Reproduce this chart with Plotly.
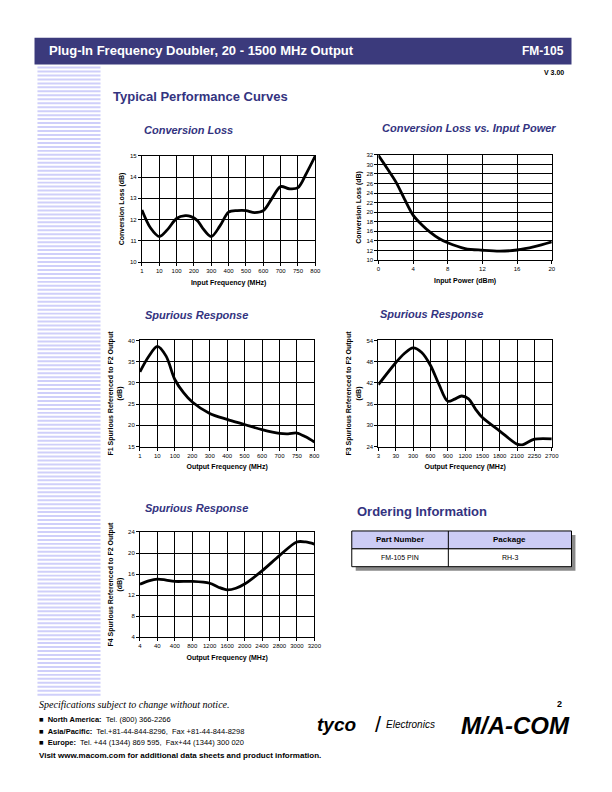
import plotly.graph_objects as go

# ---- data ----
freq_in_labels = ["1", "10", "100", "200", "300", "400", "500", "600", "700", "750", "800"]
cl_pos = [0, 0.5, 1, 1.5, 2, 2.5, 2.8, 3.2, 3.5, 4, 4.5, 5, 5.5, 6, 6.5, 7, 7.5, 8, 8.5, 9, 9.5, 10]
cl_db = [12.45, 11.6, 11.2, 11.55, 12.05, 12.18, 12.15, 11.95, 11.6, 11.2, 11.7, 12.35, 12.42, 12.42, 12.33, 12.42, 13.0, 13.55, 13.45, 13.5, 14.2, 15.0]

pin_dbm = [0, 1, 2, 3, 4, 5, 6, 7, 8, 10, 12, 14, 16, 18, 20]
pin_cl = [31.9, 29.2, 26.4, 22.8, 19.4, 17.4, 15.8, 14.5, 13.6, 12.4, 12.05, 11.85, 12.1, 12.8, 13.8]

f1_pos = [0, 0.5, 1, 1.5, 2, 2.5, 3, 4, 5, 6, 7, 8, 8.5, 9, 9.5, 10]
f1_db = [32.6, 36.2, 38.6, 36.3, 30.8, 27.7, 25.5, 22.8, 21.4, 20.2, 19.0, 18.1, 18.0, 18.2, 17.3, 16.1]

f3_labels = ["3", "30", "300", "600", "900", "1200", "1500", "1800", "2100", "2250", "2700"]
f3_pos = [0, 1, 1.5, 2, 2.5, 3, 3.5, 4, 4.4, 4.8, 5.2, 5.6, 6, 7, 8, 8.3, 9, 10]
f3_db = [41.5, 47.7, 50.3, 51.9, 50.6, 47.0, 41.5, 36.8, 37.4, 38.3, 37.5, 34.6, 32.2, 28.4, 24.7, 24.5, 26.1, 26.2]

f4_labels = ["4", "40", "400", "800", "1200", "1600", "2000", "2400", "2800", "3000", "3200"]
f4_pos = [0, 0.5, 1, 1.5, 2, 3, 4, 4.5, 5, 5.5, 6, 7, 8, 9, 9.5, 10]
f4_db = [14.05, 14.7, 15.05, 14.85, 14.6, 14.6, 14.25, 13.5, 13.0, 13.3, 14.1, 16.6, 19.5, 22.1, 22.1, 21.7]

order_cols = ["Part Number", "Package"]
order_rows = [["FM-105 PIN", "RH-3"]]

NAVY = "#333380"
FONT = "Liberation Sans"
W, H = 612, 792


def px(x):
    return x / W


def py(y):
    return 1 - y / H


fig = go.Figure()

# plot boxes in pixels: left, right, top, bottom
boxes = [
    (142, 318, 154, 261),
    (382, 558, 153, 259),
    (140, 317, 340, 447),
    (382, 558, 340, 447),
    (140, 317, 533, 639),
]

series = [
    (cl_pos, cl_db),
    (pin_dbm, pin_cl),
    (f1_pos, f1_db),
    (f3_pos, f3_db),
    (f4_pos, f4_db),
]

for i, (xs, ys) in enumerate(series):
    n = "" if i == 0 else str(i + 1)
    fig.add_trace(go.Scatter(x=xs, y=ys, mode="lines",
                             line=dict(color="black", width=2.8, shape="spline", smoothing=0.9),
                             xaxis="x" + n, yaxis="y" + n, showlegend=False, hoverinfo="skip"))

axis_common = dict(showline=True, mirror=True, linecolor="black", linewidth=1,
                   showgrid=True, gridcolor="black", gridwidth=1, zeroline=False,
                   ticks="outside", ticklen=3, tickcolor="black",
                   tickfont=dict(family=FONT, size=6, color="black"))

xcfg = [
    dict(range=[0, 10], tickvals=list(range(11)), ticktext=freq_in_labels, title="Input Frequency (MHz)"),
    dict(range=[0, 20], tickvals=[0, 4, 8, 12, 16, 20], title="Input Power (dBm)"),
    dict(range=[0, 10], tickvals=list(range(11)), ticktext=freq_in_labels, title="Output Frequency (MHz)"),
    dict(range=[0, 10], tickvals=list(range(11)), ticktext=f3_labels, title="Output Frequency (MHz)"),
    dict(range=[0, 10], tickvals=list(range(11)), ticktext=f4_labels, title="Output Frequency (MHz)"),
]
ycfg = [
    dict(range=[10, 15], dtick=1, title="Conversion Loss (dB)"),
    dict(range=[10, 32], dtick=2, title="Conversion Loss (dB)"),
    dict(range=[15, 40], dtick=5, title="F1 Spurious Referenced to F2 Output<br>(dB)"),
    dict(range=[24, 54], dtick=6, title="F3 Spurious Referenced to F2 Output<br>(dB)"),
    dict(range=[4, 24], dtick=4, title="F4 Spurious Referenced to F2 Output<br>(dB)"),
]

layout_axes = {}
for i, (l, r, t, b) in enumerate(boxes):
    n = "" if i == 0 else str(i + 1)
    xc = dict(axis_common)
    xt = xcfg[i].pop("title")
    xc.update(xcfg[i])
    xc.update(domain=[px(l), px(r)], anchor="y" + n,
              title=dict(text="<b>" + xt + "</b>", font=dict(family=FONT, size=7, color="black"), standoff=6))
    yc = dict(axis_common)
    yt = ycfg[i].pop("title")
    yc.update(ycfg[i])
    yc.update(domain=[py(b), py(t)], anchor="x" + n,
              title=dict(text="<b>" + yt + "</b>", font=dict(family=FONT, size=7, color="black"), standoff=4))
    layout_axes["xaxis" + n] = xc
    layout_axes["yaxis" + n] = yc

shapes = []


def rect(x0, x1, y0, y1, fill, line_w=0, layer="below"):
    shapes.append(dict(type="rect", xref="paper", yref="paper", x0=px(x0), x1=px(x1), y0=py(y1), y1=py(y0),
                       fillcolor=fill, line=dict(width=line_w, color="black"), layer=layer))


# header bar
rect(33, 578, 35, 62, "#3b3a7c")
# left stripes
y = 64
while y < 697:
    rect(36, 100, y, y + 2, "#cfcffa")
    y += 4

ann = []


def text(x, y, s, size, color="black", xanchor="left", family=FONT, **kw):
    ann.append(dict(x=px(x), y=py(y), xref="paper", yref="paper", text=s, showarrow=False,
                    xanchor=xanchor, yanchor="middle", font=dict(family=family, size=size, color=color), **kw))


# ordering table built from order_cols / order_rows
tl, tr, tt, rh = 355, 578, 532, 18
col_edges = [tl, 453, tr]
tb = tt + rh * (1 + len(order_rows))
rect(tl + 4, tr + 4, tt + 4, tb + 4, "#8a8a8a")
rect(tl, tr, tt, tt + rh, "#ccccf5", 1)
for r in range(len(order_rows)):
    rect(tl, tr, tt + rh * (r + 1), tt + rh * (r + 2), "white", 1)
for c in range(len(order_cols)):
    cx = (col_edges[c] + col_edges[c + 1]) / 2
    shapes.append(dict(type="line", xref="paper", yref="paper", x0=px(col_edges[c + 1]), x1=px(col_edges[c + 1]),
                       y0=py(tt), y1=py(tb), line=dict(color="black", width=1), layer="below"))
    text(cx, tt + rh / 2, "<b>" + order_cols[c] + "</b>", 8, xanchor="center")
    for r, row in enumerate(order_rows):
        text(cx, tt + rh * (r + 1.5), row[c], 7, xanchor="center")

text(46, 48, "<b>Plug-In Frequency Doubler, 20 - 1500 MHz Output</b>", 13, "white")
text(572, 48, "<b>FM-105</b>", 12, "white", xanchor="right")
text(572, 70, "<b>V 3.00</b>", 7, xanchor="right")
text(111, 94, "<b>Typical Performance Curves</b>", 13, NAVY)
text(142, 128, "<b><i>Conversion Loss</i></b>", 11, NAVY)
text(384, 126, "<b><i>Conversion Loss vs. Input Power</i></b>", 11, NAVY)
text(143, 314, "<b><i>Spurious Response</i></b>", 11, NAVY)
text(382, 313, "<b><i>Spurious Response</i></b>", 11, NAVY)
text(143, 509, "<b><i>Spurious Response</i></b>", 11, NAVY)
text(358, 512, "<b>Ordering Information</b>", 13, NAVY)

text(36, 707, "<i>Specifications subject to change without notice.</i>", 10, family="Liberation Serif")
text(36, 722, "■  <b>North America:</b>  Tel. (800) 366-2266", 7.5)
text(36, 734, "■  <b>Asia/Pacific:</b>  Tel.+81-44-844-8296,  Fax +81-44-844-8298", 7.5)
text(36, 745, "■  <b>Europe:</b>  Tel. +44 (1344) 869 595,  Fax+44 (1344) 300 020", 7.5)
text(36, 758, "<b>Visit www.macom.com for additional data sheets and product information.</b>", 8)
text(570, 706, "<b>2</b>", 9, xanchor="right")
text(318, 727, "<b><i>tyco</i></b>", 19)
text(388, 727, "<i>Electronics</i>", 10)
text(377, 727, "/", 22, family="Liberation Sans")
text(578, 728, "<b><i>M/A-COM</i></b>", 24, xanchor="right")

fig.update_layout(
    width=W, height=H, margin=dict(l=0, r=0, t=0, b=0),
    paper_bgcolor="white", plot_bgcolor="white",
    shapes=shapes, annotations=ann, showlegend=False,
    **layout_axes,
)

fig.write_html("out.html", config={"displayModeBar": False},
               post_script="document.body.style.margin='0';document.body.style.overflow='hidden';")
